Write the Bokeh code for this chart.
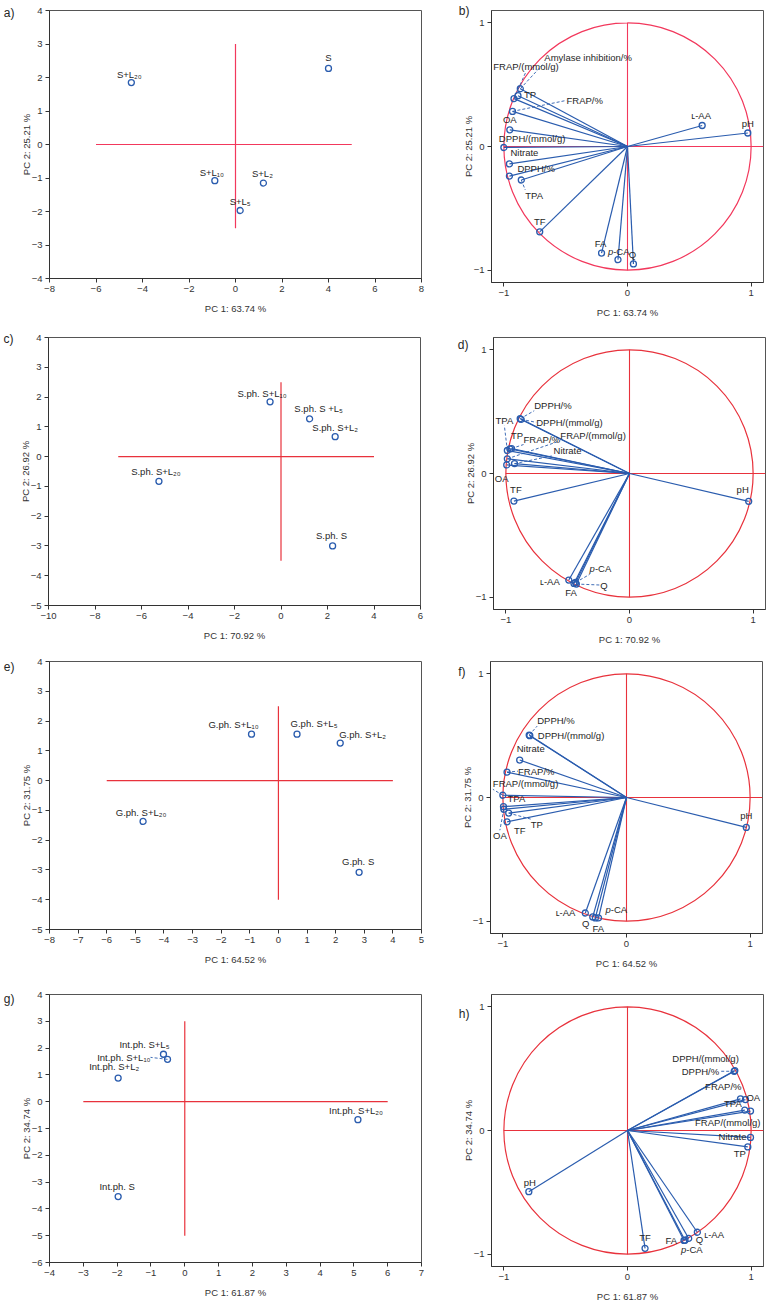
import numpy as np
from bokeh.plotting import figure
from bokeh.models import (ColumnDataSource, FixedTicker, Range1d, LinearAxis,
                          CustomJSTickFormatter)
from bokeh.layouts import column, row
from bokeh.embed import file_html
from bokeh.resources import INLINE
from bokeh.core.properties import value

FONT = "Liberation Sans"

# ------------------------- data -------------------------
# a) scores
a_names = ["S", "S+L₂₀", "S+L₁₀", "S+L₂", "S+L₅"]
a_pc1 = [4.0, -4.48, -0.89, 1.20, 0.20]
a_pc2 = [2.27, 1.85, -1.08, -1.15, -1.97]
a_xticks = [-8, -6, -4, -2, 0, 2, 4, 6, 8]
a_yticks = [-4, -3, -2, -1, 0, 1, 2, 3, 4]
a_hline = [-6, 5]
a_vline = [-2.5, 3]

# c) scores
c_names = ["S.ph. S+L₁₀", "S.ph. S +L₅", "S.ph. S+L₂", "S.ph. S+L₂₀", "S.ph. S"]
c_pc1 = [-0.47, 1.23, 2.33, -5.25, 2.22]
c_pc2 = [1.84, 1.27, 0.67, -0.83, -3.0]
c_xticks = [-10, -8, -6, -4, -2, 0, 2, 4, 6]
c_yticks = [-5, -4, -3, -2, -1, 0, 1, 2, 3, 4]
c_hline = [-7, 4]
c_vline = [-3.5, 2.5]

# e) scores
e_names = ["G.ph. S+L₁₀", "G.ph. S+L₅", "G.ph. S+L₂", "G.ph. S+L₂₀", "G.ph. S"]
e_pc1 = [-0.94, 0.65, 2.16, -4.73, 2.82]
e_pc2 = [1.56, 1.56, 1.26, -1.37, -3.08]
e_xticks = [-8, -7, -6, -5, -4, -3, -2, -1, 0, 1, 2, 3, 4, 5]
e_yticks = [-5, -4, -3, -2, -1, 0, 1, 2, 3, 4]
e_hline = [-6, 4]
e_vline = [-4, 2.5]

# g) scores
g_names = ["Int.ph. S+L₅", "Int.ph. S+L₁₀", "Int.ph. S+L₂", "Int.ph. S+L₂₀", "Int.ph. S"]
g_pc1 = [-0.63, -0.51, -1.97, 5.12, -1.97]
g_pc2 = [1.77, 1.58, 0.88, -0.67, -3.54]
g_xticks = [-4, -3, -2, -1, 0, 1, 2, 3, 4, 5, 6, 7]
g_yticks = [-6, -5, -4, -3, -2, -1, 0, 1, 2, 3, 4]
g_hline = [-3, 6]
g_vline = [-5, 3]

# b) loadings
b_vars = ["pH", "ʟ-AA", "Amylase inhibition/%", "FRAP/(mmol/g)", "TP", "FRAP/%", "OA",
          "DPPH/(mmol/g)", "Nitrate", "DPPH/%", "TPA", "TF", "FA", "p-CA", "Q"]
b_pc1 = [0.973, 0.604, -0.867, -0.918, -0.886, -0.930, -0.952, -1.0, -0.955, -0.955,
         -0.859, -0.710, -0.210, -0.077, 0.048]
b_pc2 = [0.109, 0.170, 0.467, 0.387, 0.411, 0.284, 0.135, -0.008, -0.141, -0.239,
         -0.271, -0.690, -0.862, -0.915, -0.950]

# d) loadings
d_vars = ["pH", "DPPH/%", "DPPH/(mmol/g)", "TPA", "TP", "FRAP/%", "FRAP/(mmol/g)",
          "Nitrate", "OA", "TF", "ʟ-AA", "FA", "p-CA", "Q"]
d_pc1 = [0.964, -0.884, -0.876, -0.988, -0.967, -0.954, -0.988, -0.930, -0.993, -0.935,
         -0.491, -0.449, -0.436, -0.430]
d_pc2 = [-0.225, 0.443, 0.438, 0.186, 0.199, 0.202, 0.119, 0.080, 0.069, -0.223,
         -0.862, -0.889, -0.881, -0.894]

# f) loadings
f_vars = ["DPPH/%", "DPPH/(mmol/g)", "Nitrate", "FRAP/%", "FRAP/(mmol/g)", "TPA", "OA",
          "TP", "TF", "pH", "ʟ-AA", "Q", "FA", "p-CA"]
f_pc1 = [-0.787, -0.782, -0.864, -0.966, -1.0, -0.995, -0.992, -0.953, -0.966, 0.969,
         -0.333, -0.273, -0.252, -0.226]
f_pc2 = [0.505, 0.500, 0.303, 0.205, 0.018, -0.074, -0.095, -0.126, -0.197, -0.242,
         -0.934, -0.966, -0.974, -0.974]

# h) loadings
h_vars = ["DPPH/(mmol/g)", "DPPH/%", "FRAP/%", "OA", "TPA", "FRAP/(mmol/g)", "Nitrate",
          "TP", "pH", "TF", "FA", "p-CA", "Q", "ʟ-AA"]
h_pc1 = [0.868, 0.863, 0.914, 0.954, 0.949, 0.995, 0.995, 0.973, -0.798, 0.142, 0.465,
         0.457, 0.495, 0.565]
h_pc2 = [0.485, 0.479, 0.256, 0.250, 0.165, 0.157, -0.056, -0.133, -0.495, -0.953,
         -0.887, -0.889, -0.873, -0.823]

bip_ticks = [-1, 0, 1]
bip_hline = [-1, 1.1]
bip_vline = [-1, 1]

# ------------------------- label placement (style) -------------------------
# (dx px, dy px (down +), align, baseline, leader)
a_lab = [(0, -5, "center", "bottom", 0), (-2, -3, "center", "bottom", 0),
         (-3, -3, "center", "bottom", 0), (-1, -4, "center", "bottom", 0),
         (0, -3, "center", "bottom", 0)]
c_lab = [(-8, -3, "center", "bottom", 0), (9, -5, "center", "bottom", 0),
         (0, -4, "center", "bottom", 0), (-3, -4, "center", "bottom", 0),
         (-1, -5, "center", "bottom", 0)]
e_lab = [(-18, -4, "center", "bottom", 0), (17, -5, "center", "bottom", 0),
         (-1, -3, "left", "bottom", 0), (-2, -3, "center", "bottom", 0),
         (-1, -5, "center", "bottom", 0)]
g_lab = [(6, -4, "right", "bottom", 0), (-17, -2, "right", "middle", 1),
         (-4, -6, "center", "bottom", 0), (-2, -4, "center", "bottom", 0),
         (-1, -5, "center", "bottom", 0)]
b_lab = [(0, -4, "center", "bottom", 0), (-1, -4, "center", "bottom", 0),
         (24, -26, "left", "bottom", 1), (12, -27, "center", "bottom", 1),
         (6, -1, "left", "middle", 0), (54, -11, "left", "middle", 1),
         (0, -5, "center", "bottom", 0), (-5, -3, "left", "bottom", 0),
         (1, -6, "left", "bottom", 0), (8, -2, "left", "bottom", 0),
         (4, 10, "left", "top", 1), (0, -5, "center", "bottom", 0),
         (-1, -4, "center", "bottom", 0), (1, -3, "center", "bottom", 0),
         (-1, -4, "center", "bottom", 0)]
d_lab = [(-6, -6, "center", "bottom", 0), (14, -8, "left", "bottom", 1),
         (15, 3, "left", "middle", 1), (-3, -25, "center", "bottom", 1),
         (1, -8, "left", "bottom", 0), (12, -4, "left", "bottom", 1),
         (53, -18, "left", "bottom", 1), (39, -8, "left", "bottom", 1),
         (-5, 8, "center", "top", 0), (2, -6, "center", "bottom", 0),
         (-9, 1, "right", "middle", 0), (-3, 4, "center", "top", 0),
         (14, -8, "left", "bottom", 1), (24, 1, "left", "middle", 1)]
f_lab = [(8, -9, "left", "bottom", 1), (8, 0, "left", "middle", 0),
         (11, -6, "center", "bottom", 0), (11, -1, "left", "middle", 1),
         (-10, -6, "left", "bottom", 1), (4, -3, "left", "bottom", 0),
         (-4, 21, "center", "top", 1), (22, 6, "left", "top", 1),
         (7, 3, "left", "top", 0), (0, -6, "center", "bottom", 0),
         (-10, 0, "right", "middle", 0), (-7, 1, "center", "top", 0),
         (3, 5, "center", "top", 0), (7, -3, "left", "bottom", 0)]
h_lab = [(4, -7, "right", "bottom", 0), (-15, 0, "right", "middle", 1),
         (1, -7, "right", "bottom", 0), (1, -2, "left", "middle", 0),
         (-3, -1, "right", "bottom", 0), (10, 6, "right", "top", 0),
         (-4, -1, "right", "middle", 0), (-2, 1, "right", "top", 0),
         (1, -4, "center", "bottom", 0), (0, -5, "center", "bottom", 0),
         (-8, 0, "right", "middle", 0), (-3, 4, "left", "top", 0),
         (7, 1, "left", "middle", 0), (7, 2, "left", "middle", 0)]

BLUE = "#2a5cae"
RED_A = "#f2385c"
RED = "#e8323c"
TXT = "#262626"
FS = "9.5px"


def base_fig(fw, fh, xr, yr, borders, xticks, yticks, xlabel, ylabel):
    rb, tb, bb = borders
    p = figure(frame_width=fw, frame_height=fh, x_range=Range1d(*xr), y_range=Range1d(*yr),
               output_backend="svg", toolbar_location=None,
               min_border_left=0, min_border_right=rb, min_border_top=tb, min_border_bottom=bb)
    p.grid.visible = False
    p.outline_line_color = "#555555"
    p.outline_line_width = 1
    p.xaxis.ticker = FixedTicker(ticks=xticks)
    p.yaxis.ticker = FixedTicker(ticks=yticks)
    for ax in (p.xaxis[0], p.yaxis[0]):
        ax.major_tick_in = 0
        ax.major_tick_out = 4
        ax.minor_tick_line_color = None
        ax.axis_line_color = "#333333"
        ax.major_tick_line_color = "#333333"
        ax.major_label_text_font = FONT
        ax.major_label_text_font_size = FS
        ax.major_label_text_color = "#333333"
        ax.axis_label_text_font = FONT
        ax.axis_label_text_font_size = FS
        ax.axis_label_text_font_style = "normal"
        ax.axis_label_text_color = "#333333"
        ax.major_label_standoff = 3
    p.xaxis[0].axis_label_standoff = 8
    p.yaxis[0].axis_label_standoff = -3
    p.xaxis.axis_label = xlabel
    p.yaxis.axis_label = ylabel
    return p


def add_labels(p, xs, ys, names, labs, ppx, ppy):
    rows = dict(x=[], y=[], text=[], xo=[], yo=[], align=[], base=[])
    irows = dict(x=[], y=[], text=[], xo=[], yo=[], base=[])
    lx0, ly0, lx1, ly1 = [], [], [], []
    for x, y, n, (dx, dy, al, bl, ld) in zip(xs, ys, names, labs):
        if n == "p-CA":
            wp = 0.556 * 9.5
            wr = (0.333 + 0.722 + 0.722) * 9.5
            tot = wp + wr
            left = dx if al == "left" else (dx - tot / 2 if al == "center" else dx - tot)
            irows["x"].append(x); irows["y"].append(y); irows["text"].append("p")
            irows["xo"].append(left); irows["yo"].append(dy); irows["base"].append(bl)
            rows["x"].append(x); rows["y"].append(y); rows["text"].append("-CA")
            rows["xo"].append(left + wp); rows["yo"].append(dy)
            rows["align"].append("left"); rows["base"].append(bl)
        else:
            rows["x"].append(x); rows["y"].append(y); rows["text"].append(n)
            rows["xo"].append(dx); rows["yo"].append(dy)
            rows["align"].append(al); rows["base"].append(bl)
        if ld:
            lx0.append(x); ly0.append(y)
            lx1.append(x + dx / ppx); ly1.append(y - dy / ppy)
    if lx0:
        p.segment(x0=lx0, y0=ly0, x1=lx1, y1=ly1, line_color=BLUE, line_width=0.9,
                  line_dash="3 2")
    p.text(x="x", y="y", text="text", x_offset="xo", y_offset="yo", text_align="align",
           text_baseline="base", source=ColumnDataSource(rows), text_font=value(FONT),
           text_font_size=value(FS), text_color=TXT)
    if irows["x"]:
        p.text(x="x", y="y", text="text", x_offset="xo", y_offset="yo", text_align="left",
               text_baseline="base", source=ColumnDataSource(irows), text_font=value(FONT),
               text_font_size=value(FS), text_color=TXT, text_font_style="italic")


def letter(p, yr, fh, txt, down_px, standoff):
    ly = yr[1] - max(down_px, 0.2) * (yr[1] - yr[0]) / fh
    ax = LinearAxis(ticker=FixedTicker(ticks=[ly]),
                    formatter=CustomJSTickFormatter(code="return '%s';" % txt),
                    axis_line_color=None, major_tick_line_color=None,
                    minor_tick_line_color=None, major_tick_in=0, major_tick_out=0,
                    major_label_standoff=standoff, major_label_text_font=FONT,
                    major_label_text_font_size="12px", major_label_text_color=TXT)
    p.add_layout(ax, "left")


SW, SH = 372, 268   # score frame
BW, BH = 272, 272   # biplot frame


def score(names, pc1, pc2, labs, xr, yr, xt, yt, hl, vl, xlabel, ylabel, red, borders,
          let, let_down):
    p = base_fig(SW, SH, xr, yr, borders, xt, yt, xlabel, ylabel)
    p.line(x=hl, y=[0, 0], line_color=red, line_width=1.2)
    p.line(x=[0, 0], y=vl, line_color=red, line_width=1.2)
    p.scatter(x=pc1, y=pc2, size=6, marker="circle", fill_color=None, line_color=BLUE,
              line_width=1.3)
    add_labels(p, pc1, pc2, names, labs, SW / (xr[1] - xr[0]), SH / (yr[1] - yr[0]))
    letter(p, yr, SH, let, let_down, 3)
    return p


def biplot(names, pc1, pc2, labs, xlabel, ylabel, red, borders, let, let_down, let_so):
    xr = (-1.1, 1.1)
    yr = (-1.1, 1.1)
    p = base_fig(BW, BH, xr, yr, borders, bip_ticks, bip_ticks, xlabel, ylabel)
    p.ellipse(x=[0], y=[0], width=[2], height=[2], fill_color=None, line_color=red,
              line_width=1.2)
    p.line(x=bip_hline, y=[0, 0], line_color=red, line_width=1.1)
    p.line(x=[0, 0], y=bip_vline, line_color=red, line_width=1.1)
    n = len(pc1)
    p.segment(x0=[0] * n, y0=[0] * n, x1=pc1, y1=pc2, line_color=BLUE, line_width=1.2)
    p.scatter(x=pc1, y=pc2, size=6, marker="circle", fill_color=None, line_color=BLUE,
              line_width=1.3)
    add_labels(p, pc1, pc2, names, labs, BW / 2.2, BH / 2.2)
    letter(p, yr, BH, let, let_down, let_so)
    return p


pa = score(a_names, a_pc1, a_pc2, a_lab, (-8, 8), (-4, 4), a_xticks, a_yticks, a_hline, a_vline,
           "PC 1: 63.74 %", "PC 2: 25.21 %", RED_A, (34, 6, 57), "a)", 2)
pb = biplot(b_vars, b_pc1, b_pc2, b_lab, "PC 1: 63.74 %", "PC 2: 25.21 %", RED_A,
            (2, 10, 49), "b)", 0, -10)
pc = score(c_names, c_pc1, c_pc2, c_lab, (-10, 6), (-5, 4), c_xticks, c_yticks, c_hline, c_vline,
           "PC 1: 70.92 %", "PC 2: 26.92 %", RED, (34, 6, 48), "c)", 0)
pd = biplot(d_vars, d_pc1, d_pc2, d_lab, "PC 1: 70.92 %", "PC 2: 26.92 %", RED,
            (2, 6, 44), "d)", 7, -7)
pe = score(e_names, e_pc1, e_pc2, e_lab, (-8, 5), (-5, 4), e_xticks, e_yticks, e_hline, e_vline,
           "PC 1: 64.52 %", "PC 2: 31.75 %", RED, (34, 5, 49), "e)", 5)
pf = biplot(f_vars, f_pc1, f_pc2, f_lab, "PC 1: 64.52 %", "PC 2: 31.75 %", RED,
            (2, 8, 42), "f)", 10, -7)
pg = score(g_names, g_pc1, g_pc2, g_lab, (-4, 7), (-6, 4), g_xticks, g_yticks, g_hline, g_vline,
           "PC 1: 61.87 %", "PC 2: 34.74 %", RED, (34, 19, 38), "g)", 4)
ph = biplot(h_vars, h_pc1, h_pc2, h_lab, "PC 1: 61.87 %", "PC 2: 34.74 %", RED,
            (2, 9, 44), "h)", 19.5, -10)

layout = column(row(pa, pb), row(pc, pd), row(pe, pf), row(pg, ph))
open("out.html", "w").write(file_html(layout, INLINE))
